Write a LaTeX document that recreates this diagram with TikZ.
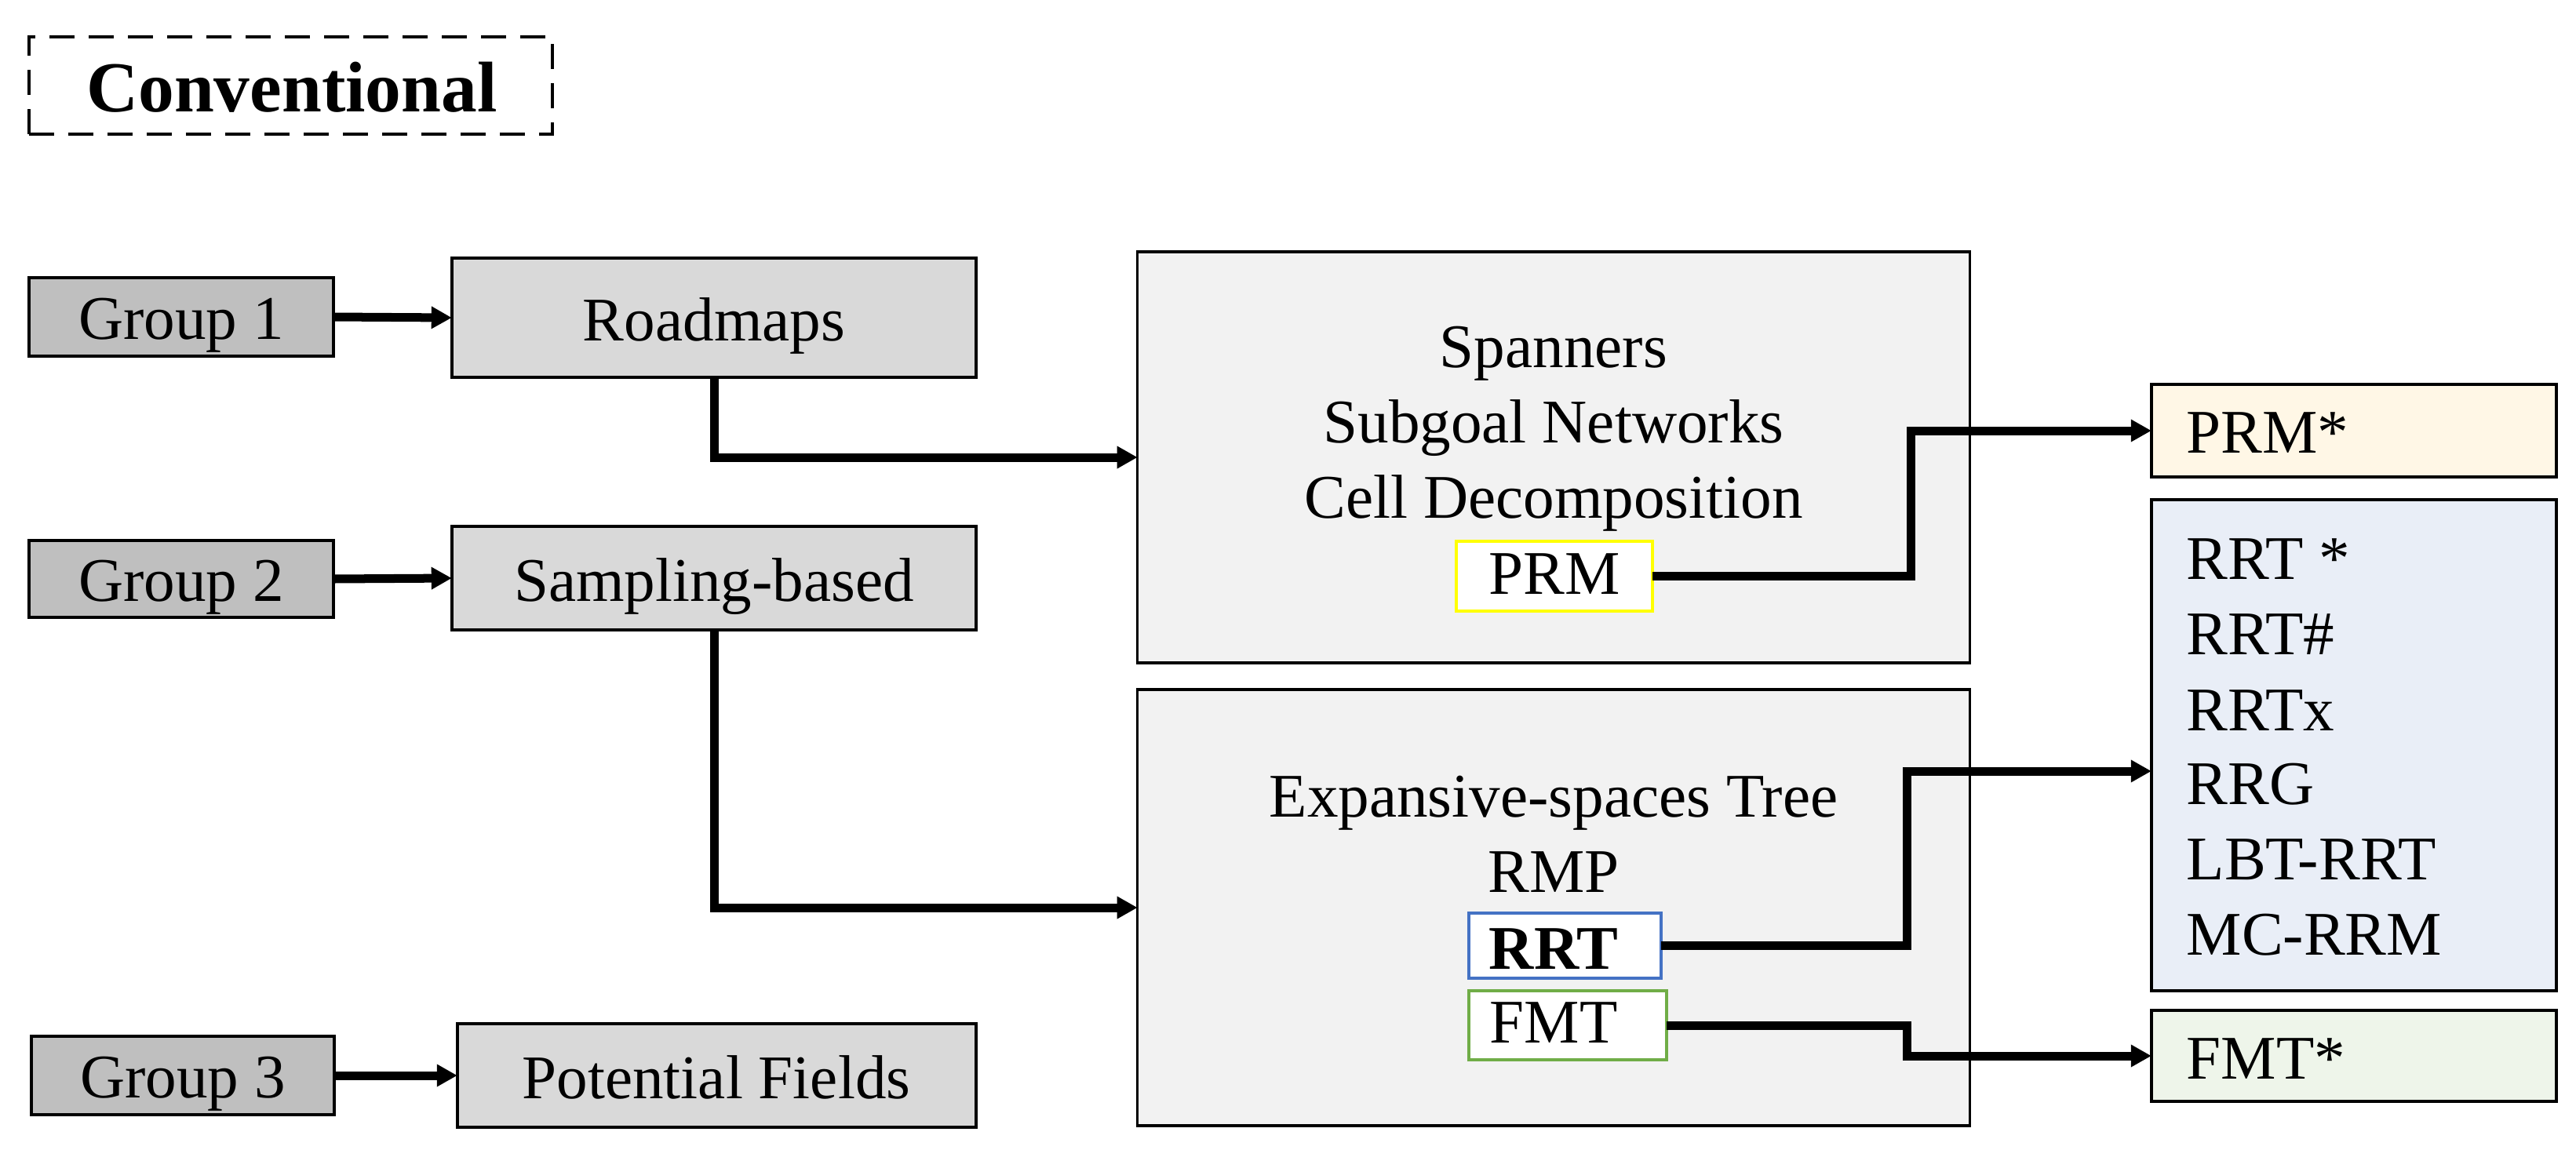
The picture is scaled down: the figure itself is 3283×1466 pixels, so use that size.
\documentclass[tikz,border=0pt]{standalone}
\usepackage{fontspec}
\setmainfont{Liberation Serif}
\usetikzlibrary{arrows.meta}
\definecolor{grpfill}{HTML}{BFBFBF}
\definecolor{catfill}{HTML}{D9D9D9}
\definecolor{bigfill}{HTML}{F2F2F2}
\definecolor{creamfill}{HTML}{FFF7E6}
\definecolor{bluefill}{HTML}{E9EEF7}
\definecolor{greenfill}{HTML}{EEF5EA}
\definecolor{ylwline}{HTML}{FFFF00}
\definecolor{blueline}{HTML}{4472C4}
\definecolor{greenline}{HTML}{70AD47}
\begin{document}
\begin{tikzpicture}[x=0.01cm,y=-0.01cm,
  box/.style={draw=black, line width=0.035cm, inner sep=0pt, outer sep=0pt},
  subbox/.style={line width=0.04cm, fill=white, inner sep=0pt, outer sep=0pt},
  txt/.style={anchor=base, inner sep=0pt, font=\fontsize{22.5}{27}\selectfont},
  ltxt/.style={anchor=base west, inner sep=0pt, font=\fontsize{22.5}{27}\selectfont},
  conn/.style={line width=0.11cm, -{Triangle[length=0.26cm,width=0.27cm]}},
]
\path[use as bounding box] (0,0) rectangle (3283,1466);

% title
\node[box, line width=0.045cm, dash pattern=on 0.32cm off 0.18cm, minimum width=6.67cm, minimum height=1.24cm] (conv) at (370.5,109) {};
\node[anchor=base, inner sep=0pt, font=\fontsize{26}{30}\selectfont\bfseries] (convt) at (372,142) {Conventional};

% groups
\node[box, fill=grpfill, minimum width=3.88cm, minimum height=1.0cm] (g1) at (231,404) {};
\node[box, fill=grpfill, minimum width=3.88cm, minimum height=0.98cm] (g2) at (231,738) {};
\node[box, fill=grpfill, minimum width=3.86cm, minimum height=1.0cm] (g3) at (233,1371) {};
\node[txt] (g1t) at (231,432) {Group 1};
\node[txt] (g2t) at (231,766) {Group 2};
\node[txt] (g3t) at (233,1399) {Group 3};

% categories
\node[box, fill=catfill, minimum width=6.68cm, minimum height=1.52cm] (road) at (910,405) {};
\node[box, fill=catfill, minimum width=6.68cm, minimum height=1.32cm] (samp) at (910,737) {};
\node[box, fill=catfill, minimum width=6.61cm, minimum height=1.32cm] (pot) at (913.5,1371) {};
\node[txt] (roadt) at (910,434) {Roadmaps};
\node[txt] (sampt) at (910,766) {Sampling-based};
\node[txt] (pott) at (913,1400) {Potential Fields};

% big boxes
\node[box, fill=bigfill, minimum width=10.6cm, minimum height=5.24cm] (span) at (1980,583) {};
\node[box, fill=bigfill, minimum width=10.6cm, minimum height=5.56cm] (exp) at (1980,1157) {};
\node[txt] (spant1) at (1980,468) {Spanners};
\node[txt] (spant2) at (1980,564) {Subgoal Networks};
\node[txt] (spant3) at (1980,660) {Cell Decomposition};
\node[subbox, draw=ylwline, minimum width=2.5cm, minimum height=0.89cm] (prm) at (1981,734.5) {};
\node[txt] (prmt) at (1981,757) {PRM};

\node[txt] (expt1) at (1980,1041) {Expansive-spaces Tree};
\node[txt] (expt2) at (1980,1137) {RMP};
\node[subbox, draw=blueline, minimum width=2.45cm, minimum height=0.83cm] (rrt) at (1994.5,1205.5) {};
\node[txt, font=\fontsize{22.5}{27}\selectfont\bfseries] (rrtt) at (1980,1235) {RRT};
\node[subbox, draw=greenline, minimum width=2.52cm, minimum height=0.88cm] (fmt) at (1998,1307) {};
\node[txt] (fmtt) at (1980,1329) {FMT};

% result boxes
\node[box, fill=creamfill, minimum width=5.16cm, minimum height=1.18cm] (prmstar) at (3000,549) {};
\node[box, fill=bluefill, minimum width=5.16cm, minimum height=6.26cm] (list) at (3000,950) {};
\node[box, fill=greenfill, minimum width=5.16cm, minimum height=1.16cm] (fmtstar) at (3000,1346) {};
\node[ltxt] (prmstart) at (2786,577) {PRM*};
\node[ltxt] (l1) at (2786,738) {RRT *};
\node[ltxt] (l2) at (2786,834) {RRT\#};
\node[ltxt] (l3) at (2786,931) {RRTx};
\node[ltxt] (l4) at (2786,1025) {RRG};
\node[ltxt] (l5) at (2786,1121) {LBT-RRT};
\node[ltxt] (l6) at (2786,1217) {MC-RRM};
\node[ltxt] (fmtstart) at (2786,1375) {FMT*};

% connectors
\draw[conn] (g1.east) -- (road.west);
\draw[conn] (g2.east) -- (samp.west);
\draw[conn] (g3.east) -- (pot.west);
\draw[conn] (road.south) |- (span.west);
\draw[conn] (samp.south) |- (exp.west);
\coordinate (j1) at (2435,549);
\coordinate (j2) at (2430,983);
\coordinate (j3) at (2430,1346);
\draw[conn] (prm.east) -| (j1) -- (prmstar.west);
\draw[conn] (rrt.east) -| (j2) -- (j2 -| list.west);
\draw[conn] (fmt.east) -| (j3) -- (fmtstar.west);
\end{tikzpicture}
\end{document}
